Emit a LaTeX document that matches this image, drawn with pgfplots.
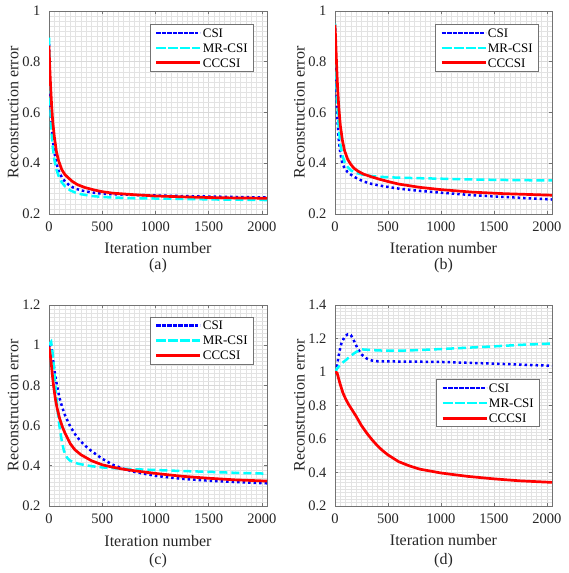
\documentclass[border=0pt]{standalone}
\usepackage{fontspec}
\setmainfont{Liberation Serif}
\usepackage{pgfplots}
\pgfplotsset{compat=1.18}
\definecolor{axgray}{gray}{0.45}
\definecolor{mcyan}{rgb}{0,1,1}
\definecolor{mblue}{rgb}{0,0,1}
\definecolor{mred}{rgb}{1,0,0}
\pgfplotsset{
  panel/.style={
    scale only axis, width=218pt, height=203pt,
    xmin=0, xmax=2048,
    xtick={0,500,1000,1500,2000},
    minor x tick num=9, minor y tick num=9,
    grid=both,
    major grid style={draw=black!15, line width=0.5pt},
    minor grid style={draw=black!11, line width=0.45pt},
    tick align=inside,
    axis line style={draw=axgray, line width=0.6pt},
    every tick/.style={draw=axgray, line width=0.6pt},
    major tick length=3pt, minor tick length=0pt,
    /pgf/number format/assume math mode=true,
    /pgf/number format/1000 sep={},
    ticklabel style={font=\fontsize{14.5}{16}\selectfont, text=black!85},
    xticklabel style={yshift=-4pt},
    yticklabel style={xshift=-5pt},
    xlabel={Iteration number}, ylabel={Reconstruction error},
    label style={font=\fontsize{16}{18}\selectfont, text=black!85},
    xlabel style={at={(axis description cs:0.5,0)}, anchor=base, yshift=-40pt},
    ylabel style={at={(axis description cs:-0.14,0.5)}, anchor=base},
    legend cell align=left,
    legend style={anchor=north east, draw=black!55, line width=0.6pt, fill=white,
      font=\fontsize{13}{15}\selectfont, inner xsep=5pt, inner ysep=3pt, row sep=4pt,
      nodes={inner sep=1pt, text height=9pt, text depth=0pt}},
    legend image code/.code={\path (-2pt,0pt) -- (42pt,0pt);\draw[#1] (0pt,0pt) -- (40pt,0pt);},
  },
  csi/.style={color=mblue, line width=2.5pt, dash pattern=on 2.5pt off 3pt},
  mr/.style={color=mcyan, line width=2.5pt, dash pattern=on 8pt off 4pt},
  cc/.style={color=mred, line width=2.7pt, line join=round},
}
\newcommand{\capfont}{\fontsize{16}{18}\selectfont}
\begin{document}
\begin{tikzpicture}
\path[use as bounding box] (0pt,0pt) rectangle (568pt,573pt);
% (a)
\begin{axis}[panel, at={(49pt,562pt)}, anchor=north west, width=218pt, height=203pt,
  ymin=0.2, ymax=1, ytick={0.2,0.4,0.6,0.8,1},
  legend style={at={(rel axis cs:0.94,0.936)}}]
\addplot[csi] coordinates {(0,0.87)(5,0.76)(10,0.68)(15,0.62)(20,0.575)(25,0.545)(35,0.495)(50,0.445)(70,0.4)(90,0.37)(120,0.345)(150,0.328)(200,0.31)(250,0.3)(300,0.293)(400,0.285)(500,0.28)(600,0.278)(800,0.275)(1000,0.273)(1300,0.27)(1600,0.268)(2048,0.265)};
\addplot[mr] coordinates {(0,0.895)(5,0.76)(10,0.67)(15,0.6)(20,0.55)(25,0.515)(35,0.465)(50,0.415)(70,0.375)(90,0.35)(120,0.325)(150,0.309)(200,0.293)(250,0.284)(300,0.278)(400,0.271)(500,0.267)(600,0.265)(800,0.262)(1000,0.261)(1300,0.259)(1600,0.257)(2048,0.255)};
\addplot[cc] coordinates {(0,0.863)(5,0.8)(10,0.75)(15,0.705)(20,0.665)(25,0.625)(35,0.565)(50,0.505)(70,0.445)(90,0.41)(120,0.375)(150,0.355)(180,0.343)(220,0.328)(270,0.315)(340,0.304)(420,0.295)(500,0.288)(600,0.282)(800,0.276)(1000,0.271)(1300,0.267)(1600,0.264)(2048,0.262)};
\legend{CSI,MR-CSI,CCCSI}
\end{axis}
\node[font=\capfont, text=black!85, anchor=base] at (158pt,303.5pt) {(a)};
% (b)
\begin{axis}[panel, at={(335pt,562pt)}, anchor=north west, width=217pt, height=203pt,
  ymin=0.2, ymax=1, ytick={0.2,0.4,0.6,0.8,1},
  legend style={at={(rel axis cs:0.94,0.936)}}]
\addplot[csi] coordinates {(0,0.93)(5,0.83)(10,0.74)(15,0.665)(20,0.605)(25,0.56)(35,0.495)(50,0.44)(70,0.4)(90,0.38)(120,0.365)(150,0.355)(200,0.342)(270,0.328)(350,0.318)(450,0.31)(600,0.3)(800,0.291)(1000,0.284)(1300,0.274)(1600,0.267)(2048,0.257)};
\addplot[mr] coordinates {(0,0.95)(5,0.86)(10,0.78)(15,0.71)(20,0.655)(25,0.61)(35,0.54)(50,0.475)(70,0.43)(90,0.405)(120,0.385)(150,0.372)(200,0.362)(270,0.354)(350,0.349)(450,0.346)(600,0.343)(800,0.341)(1000,0.339)(1300,0.336)(1600,0.334)(2048,0.332)};
\addplot[cc] coordinates {(0,0.946)(5,0.9)(10,0.845)(15,0.79)(20,0.74)(25,0.695)(35,0.625)(50,0.55)(70,0.49)(90,0.45)(120,0.415)(150,0.395)(180,0.38)(220,0.368)(270,0.357)(340,0.347)(420,0.337)(500,0.328)(600,0.318)(800,0.305)(1000,0.296)(1300,0.286)(1600,0.28)(2048,0.274)};
\legend{CSI,MR-CSI,CCCSI}
\end{axis}
\node[font=\capfont, text=black!85, anchor=base] at (443.5pt,303.5pt) {(b)};
% (c)
\begin{axis}[panel, at={(49pt,268pt)}, anchor=north west, width=218pt, height=201pt,
  ymin=0.2, ymax=1.2, ytick={0.2,0.4,0.6,0.8,1,1.2},
  legend style={at={(rel axis cs:0.94,0.942)}}]
\addplot[csi] coordinates {(0,1.0)(10,1.0)(20,0.99)(30,0.96)(40,0.92)(50,0.88)(60,0.845)(80,0.785)(100,0.735)(125,0.69)(150,0.652)(200,0.595)(250,0.553)(300,0.52)(350,0.495)(400,0.473)(500,0.435)(600,0.405)(700,0.385)(800,0.37)(1000,0.35)(1250,0.335)(1500,0.326)(1750,0.319)(2048,0.313)};
\addplot[mr] coordinates {(0,1.0)(10,1.01)(20,1.017)(30,0.98)(40,0.93)(50,0.865)(60,0.8)(70,0.74)(80,0.68)(90,0.63)(100,0.59)(120,0.525)(140,0.475)(170,0.44)(200,0.425)(275,0.41)(400,0.398)(500,0.392)(700,0.385)(1000,0.379)(1250,0.374)(1500,0.37)(1750,0.365)(2048,0.361)};
\addplot[cc] coordinates {(0,0.993)(10,0.96)(20,0.915)(30,0.86)(40,0.81)(50,0.77)(62,0.726)(75,0.69)(100,0.635)(125,0.595)(150,0.563)(200,0.51)(243,0.48)(300,0.455)(400,0.425)(500,0.405)(600,0.393)(700,0.383)(850,0.372)(1000,0.362)(1250,0.348)(1500,0.338)(1750,0.33)(2048,0.324)};
\legend{CSI,MR-CSI,CCCSI}
\end{axis}
\node[font=\capfont, text=black!85, anchor=base] at (158pt,9pt) {(c)};
% (d)
\begin{axis}[panel, at={(335pt,268pt)}, anchor=north west, width=217pt, height=201pt,
  ymin=0.2, ymax=1.4, ytick={0.2,0.4,0.6,0.8,1,1.2,1.4},
  legend style={at={(rel axis cs:0.945,0.63)}}]
\addplot[csi] coordinates {(0,1.0)(15,1.02)(30,1.08)(45,1.13)(60,1.17)(90,1.21)(120,1.225)(150,1.22)(180,1.185)(210,1.145)(250,1.105)(300,1.08)(350,1.068)(400,1.064)(500,1.063)(700,1.062)(1000,1.06)(1250,1.055)(1500,1.05)(1750,1.044)(2048,1.037)};
\addplot[mr] coordinates {(0,1.0)(20,1.02)(40,1.037)(70,1.055)(100,1.07)(150,1.097)(200,1.12)(250,1.135)(300,1.133)(400,1.129)(500,1.127)(600,1.127)(800,1.131)(1000,1.137)(1250,1.145)(1500,1.153)(1750,1.162)(2048,1.17)};
\addplot[cc] coordinates {(0,1.0)(20,0.995)(30,0.97)(50,0.925)(75,0.875)(100,0.84)(125,0.81)(150,0.785)(200,0.735)(250,0.68)(300,0.635)(350,0.595)(400,0.56)(450,0.53)(500,0.505)(600,0.465)(700,0.44)(800,0.42)(1000,0.397)(1250,0.377)(1500,0.362)(1750,0.35)(2048,0.341)};
\legend{CSI,MR-CSI,CCCSI}
\end{axis}
\node[font=\capfont, text=black!85, anchor=base] at (443.5pt,9pt) {(d)};
\end{tikzpicture}
\end{document}
